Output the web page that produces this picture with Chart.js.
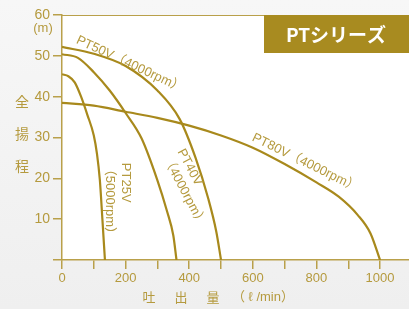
<!DOCTYPE html>
<html>
<head>
<meta charset="utf-8">
<script src="https://cdn.jsdelivr.net/npm/chart.js@4.4.1/dist/chart.umd.min.js"></script>
<style>
  html, body { margin: 0; padding: 0; background: #f3f3f3; }
  #wrap { width: 409px; height: 309px; position: relative; }
</style>
</head>
<body>
<div id="wrap"><canvas id="pt-chart" width="409" height="309"></canvas></div>
<script>
// flow (l/min) / head (m)
const pt25Q = [0, 20, 40, 60, 80, 100, 110, 119, 127, 135];
const pt25H = [45.5, 45, 43.5, 40, 35.5, 30.5, 26, 19.6, 10, 0];
const pt40Q = [0, 50, 100, 150, 200, 250, 300, 330, 350, 360];
const pt40H = [50.4, 49.5, 46, 41.5, 36, 29.8, 19.5, 12, 6, 0];
const pt50Q = [0, 100, 200, 300, 370, 420, 460, 485, 500];
const pt50H = [52.2, 50.5, 47.5, 41.5, 34.5, 25, 15, 7, 0];
const pt80Q = [0, 100, 200, 300, 400, 500, 600, 700, 800, 870, 930, 970, 1000];
const pt80H = [38.5, 37.8, 36.3, 34.8, 32.9, 30.5, 27.5, 23.5, 19, 15.5, 11, 6.5, 0];

const xTicks = [0, 100, 200, 300, 400, 500, 600, 700, 800, 900, 1000];
const yTicks = [0, 10, 20, 30, 40, 50, 60];

const GOLD = '#a8891c';
const TXT = '#b59a3e';
const AXIS = '#b9a04a';
const LAT = '"Liberation Sans", "Noto Sans CJK JP", sans-serif';
const JP = '"Noto Sans CJK JP", sans-serif';

const toPts = (q, h) => q.map((v, i) => ({ x: v, y: h[i] }));
const line = (q, h) => ({
  data: toPts(q, h), borderColor: GOLD, borderWidth: 2.2, pointRadius: 0,
  fill: false, cubicInterpolationMode: 'monotone'
});

// curve labels, anchored in data units
const curveLabels = [
  { q: 47, h: 54, rot: 25, lines: ['PT50V（4000rpm）'] },
  { q: 600, h: 30.1, rot: 26, lines: ['PT80V（4000rpm）'] },
  { q: 201, h: 23.8, rot: 90, lines: ['PT25V', '（5000rpm）'] },
  { q: 372, h: 27, rot: 62, lines: ['PT40V', '（4000rpm）'] }
];

const decor = {
  id: 'decor',
  beforeDraw(chart) {
    const { ctx, chartArea: a } = chart;
    ctx.save();
    const g = ctx.createLinearGradient(0, 0, 0, chart.height);
    g.addColorStop(0, '#f7f7f7');
    g.addColorStop(1, '#efefef');
    ctx.fillStyle = g;
    ctx.fillRect(0, 0, chart.width, chart.height);
    ctx.fillStyle = '#ffffff';
    ctx.fillRect(a.left, a.top, a.right - a.left, a.bottom - a.top);
    ctx.strokeStyle = AXIS;
    ctx.lineWidth = 1.2;
    ctx.beginPath();
    ctx.moveTo(a.left, a.top + 0.5);
    ctx.lineTo(a.right, a.top + 0.5);
    ctx.stroke();
    ctx.restore();
  },
  afterDraw(chart) {
    const { ctx, scales: { x, y } } = chart;
    ctx.save();
    ctx.fillStyle = TXT;
    ctx.textBaseline = 'middle';
    ctx.font = '13px ' + LAT;
    curveLabels.forEach(l => {
      ctx.save();
      ctx.translate(x.getPixelForValue(l.q), y.getPixelForValue(l.h));
      ctx.rotate(l.rot * Math.PI / 180);
      ctx.textAlign = 'left';
      l.lines.forEach((t, i) => ctx.fillText(t, 0, i * 16));
      ctx.restore();
    });

    // units + axis titles
    ctx.textAlign = 'center';
    ctx.font = '13px ' + LAT;
    ctx.fillText('(m)', 43, 28);
    ctx.font = '14px ' + JP;
    ['全', '揚', '程'].forEach((c, i) => ctx.fillText(c, 22, 102 + i * 32));
    ctx.font = '13px ' + JP;
    ['吐', '出', '量'].forEach((c, i) => ctx.fillText(c, 149 + i * 32, 297));
    ctx.textAlign = 'left';
    ctx.font = '13px ' + LAT;
    ctx.fillText('（ ℓ /min）', 232, 297);

    // series badge
    ctx.fillStyle = '#a88b20';
    ctx.fillRect(264, 15, 145, 38);
    ctx.fillStyle = '#ffffff';
    ctx.textAlign = 'center';
    ctx.font = 'bold 19px ' + JP;
    ctx.fillText('PTシリーズ', 336, 35);
    ctx.restore();
  }
};

new Chart(document.getElementById('pt-chart'), {
  type: 'line',
  data: {
    datasets: [line(pt25Q, pt25H), line(pt40Q, pt40H), line(pt50Q, pt50H), line(pt80Q, pt80H)]
  },
  options: {
    responsive: false,
    animation: false,
    layout: { padding: { top: 15, right: 0, left: 0, bottom: 0 } },
    plugins: { legend: { display: false }, tooltip: { enabled: false } },
    scales: {
      x: {
        type: 'linear', min: 0, max: 1091,
        afterBuildTicks: s => { s.ticks = xTicks.map(v => ({ value: v })); },
        afterFit: s => { s.height = 49; },
        border: { color: AXIS, width: 1.5 },
        grid: { drawOnChartArea: false, drawTicks: true, tickLength: 9, color: AXIS, lineWidth: 1.5 },
        ticks: {
          color: TXT, padding: 2, maxRotation: 0, autoSkip: false,
          font: { family: LAT, size: 13 },
          callback: v => (v % 200 === 0 ? String(v) : '')
        }
      },
      y: {
        type: 'linear', min: 0, max: 60,
        afterBuildTicks: s => { s.ticks = yTicks.map(v => ({ value: v })); },
        afterFit: s => { s.width = 62; },
        border: { color: AXIS, width: 1.5 },
        grid: { drawOnChartArea: false, drawTicks: true, tickLength: 9, color: AXIS, lineWidth: 1.5 },
        ticks: {
          color: TXT, padding: 3,
          font: { family: LAT, size: 14 },
          callback: v => (v === 0 ? '' : String(v))
        }
      }
    }
  },
  plugins: [decor]
});
</script>
</body>
</html>
